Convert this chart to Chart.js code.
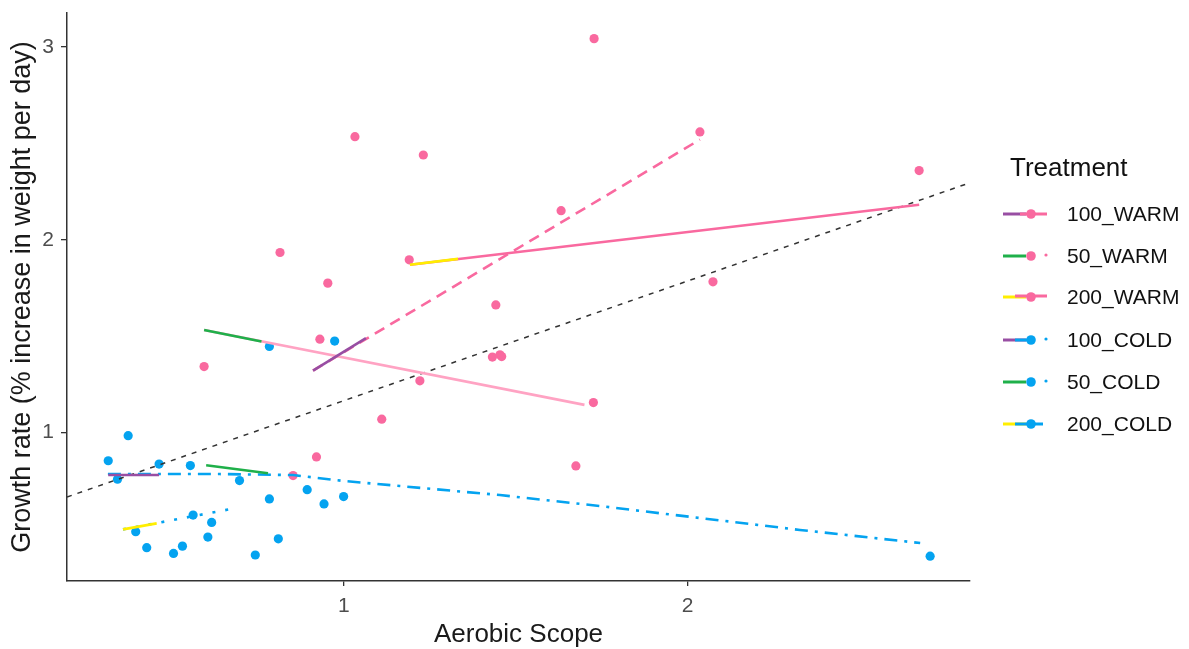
<!DOCTYPE html>
<html>
<head>
<meta charset="utf-8">
<script src="https://cdn.jsdelivr.net/npm/chart.js@4/dist/chart.umd.min.js"></script>
<style>
  html, body { margin: 0; padding: 0; background: #fff; }
  #wrap { width: 1189px; height: 649px; position: relative; }
</style>
</head>
<body>
<div id="wrap"><canvas id="growthChart"></canvas></div>
<script>
// points
var warmX = [1.728, 1.032, 1.231, 2.036, 1.632, 0.814, 1.190, 0.953, 2.074, 2.674, 1.442,
  0.930, 1.432, 1.454, 1.459, 0.593, 1.221, 1.726, 1.110, 0.920, 0.852, 1.675];
var warmY = [3.044, 2.535, 2.440, 2.56, 2.151, 1.934, 1.896, 1.775, 1.782, 2.359, 1.662,
  1.484, 1.391, 1.403, 1.394, 1.342, 1.268, 1.155, 1.069, 0.873, 0.776, 0.826];
var coldX = [0.973, 0.783, 0.372, 0.314, 0.341, 0.462, 0.553, 0.696, 0.893, 0.783, 0.999,
  0.942, 0.561, 0.615, 0.394, 0.604, 0.426, 0.530, 0.504, 0.742, 0.809, 2.706];
var coldY = [1.474, 1.446, 0.983, 0.853, 0.757, 0.836, 0.828, 0.750, 0.703, 0.655, 0.667,
  0.629, 0.571, 0.533, 0.485, 0.457, 0.402, 0.410, 0.372, 0.364, 0.448, 0.358];

// fitted lines (end points / curve points)
var overallX = [0.194, 2.822];
var overallY = [0.665, 2.296];
var warm200X = [1.192, 2.674];
var warm200Y = [1.870, 2.182];
var warm50X = [0.910, 2.036];
var warm50Y = [1.321, 2.52];
var warm100X = [0.593, 1.70];
var warm100Y = [1.532, 1.143];
var coldCurveX = [0.313, 0.464, 0.639, 0.852, 1.0, 1.163, 1.454, 1.745, 2.036, 2.327, 2.677];
var coldCurveY = [0.784, 0.784, 0.784, 0.779, 0.748, 0.722, 0.675, 0.618, 0.556, 0.494, 0.426];
var cold200X = [0.357, 0.688];
var cold200Y = [0.497, 0.608];

// short treatment segments
var segPurpleWarmX = [0.910, 1.064], segPurpleWarmY = [1.321, 1.490];
var segGreenWarmX = [0.593, 0.760], segGreenWarmY = [1.532, 1.472];
var segYellowWarmX = [1.192, 1.332], segYellowWarmY = [1.870, 1.901];
var segPurpleColdX = [0.314, 0.462], segPurpleColdY = [0.779, 0.779];
var segGreenColdX = [0.599, 0.779], segGreenColdY = [0.830, 0.788];
var segYellowColdX = [0.357, 0.455], segYellowColdY = [0.497, 0.528];

var xTicks = [1, 2];
var yTicks = [1, 2, 3];
var treatments = ['100_WARM', '50_WARM', '200_WARM', '100_COLD', '50_COLD', '200_COLD'];

var PINK = '#F9699F', BLUE = '#04A3F0', LIGHTPINK = '#FFA3C3';
var PURPLE = '#984EA3', GREEN = '#1FB04A', YELLOW = '#FFEE00';

function pts(xs, ys) {
  return xs.map(function (x, i) { return { x: x, y: ys[i] }; });
}

function lineSet(xs, ys, color, dash, order, width) {
  return {
    data: pts(xs, ys),
    showLine: true,
    borderColor: color,
    borderWidth: width || 2.6,
    borderDash: dash || [],
    pointRadius: 0,
    fill: false,
    tension: 0,
    order: order
  };
}

Chart.defaults.font.family = '"Liberation Sans", Arial, sans-serif';

var legendPlugin = {
  id: 'treatmentLegend',
  afterDraw: function (chart) {
    var ctx = chart.ctx;
    ctx.save();
    ctx.fillStyle = '#111';
    ctx.textBaseline = 'middle';
    ctx.font = '26px "Liberation Sans", Arial, sans-serif';
    ctx.fillText('Treatment', 1010, 169);
    ctx.font = '21px "Liberation Sans", Arial, sans-serif';

    var keyY = [214, 256, 297, 340, 382, 424];
    var treatCol = [PURPLE, GREEN, YELLOW, PURPLE, GREEN, YELLOW];
    function seg(x1, x2, y, c, w) {
      ctx.beginPath();
      ctx.strokeStyle = c;
      ctx.lineWidth = w || 3;
      ctx.moveTo(x1, y);
      ctx.lineTo(x2, y);
      ctx.stroke();
    }
    function dot(x, y, r, c) {
      ctx.beginPath();
      ctx.fillStyle = c;
      ctx.arc(x, y, r, 0, Math.PI * 2);
      ctx.fill();
    }
    treatments.forEach(function (name, i) {
      var y = keyY[i];
      var temp = i < 3 ? PINK : BLUE;
      seg(1003, 1026, y, treatCol[i]);
      if (i === 0) seg(1020, 1047, y, temp);
      if (i === 2) seg(1015, 1047, y - 1, temp);
      if (i === 3) seg(1015, 1027, y, temp);
      if (i === 5) seg(1015, 1043, y, temp);
      dot(1031, y, 4.8, temp);
      if (i === 1 || i === 3 || i === 4) dot(1046, y - 1, 1.6, temp);
      ctx.fillStyle = '#111';
      ctx.fillText(name, 1067, y + 1);
    });
    ctx.restore();
  }
};

var ctx = document.getElementById('growthChart').getContext('2d');
var growthChart = new Chart(ctx, {
  type: 'scatter',
  data: {
    datasets: [
      { data: pts(warmX, warmY), backgroundColor: PINK, borderColor: PINK, pointRadius: 4.6, borderWidth: 0, order: 20 },
      { data: pts(coldX, coldY), backgroundColor: BLUE, borderColor: BLUE, pointRadius: 4.6, borderWidth: 0, order: 19 },
      lineSet(overallX, overallY, '#333333', [5, 6], 10, 1.5),
      lineSet(warm100X, warm100Y, LIGHTPINK, [], 9),
      lineSet(warm200X, warm200Y, PINK, [], 8),
      lineSet(warm50X, warm50Y, PINK, [11, 7], 7),
      lineSet(coldCurveX, coldCurveY, BLUE, [13, 7, 3, 7], 6),
      lineSet(cold200X, cold200Y, BLUE, [3, 10], 5),
      lineSet(segPurpleWarmX, segPurpleWarmY, PURPLE, [], 4),
      lineSet(segGreenWarmX, segGreenWarmY, GREEN, [], 4),
      lineSet(segYellowWarmX, segYellowWarmY, YELLOW, [], 4),
      lineSet(segPurpleColdX, segPurpleColdY, PURPLE, [], 4),
      lineSet(segGreenColdX, segGreenColdY, GREEN, [], 4),
      lineSet(segYellowColdX, segYellowColdY, YELLOW, [], 4)
    ]
  },
  options: {
    responsive: true,
    maintainAspectRatio: false,
    animation: false,
    layout: { padding: { left: 0, right: 219, top: 13, bottom: 0 } },
    plugins: {
      legend: { display: false },
      tooltip: { enabled: false }
    },
    scales: {
      x: {
        type: 'linear',
        min: 0.194,
        max: 2.822,
        afterBuildTicks: function (s) { s.ticks = xTicks.map(function (v) { return { value: v }; }); },
        afterFit: function (s) { s.height = 68; s.paddingLeft = 0; s.paddingRight = 0; },
        ticks: { color: '#4d4d4d', font: { size: 21 }, padding: 8 },
        grid: { drawOnChartArea: false, tickLength: 5, color: '#333', lineWidth: 1.3 },
        border: { color: '#333', width: 1.5 },
        title: {
          display: true,
          text: 'Aerobic Scope',
          color: '#1a1a1a',
          font: { size: 26, lineHeight: 1 },
          padding: { top: 0, bottom: 1 }
        }
      },
      y: {
        type: 'linear',
        min: 0.229,
        max: 3.177,
        afterBuildTicks: function (s) { s.ticks = yTicks.map(function (v) { return { value: v }; }); },
        afterFit: function (s) { s.width = 67; s.paddingTop = 0; s.paddingBottom = 0; },
        ticks: { color: '#4d4d4d', font: { size: 21 }, padding: 7 },
        grid: { drawOnChartArea: false, tickLength: 6, color: '#333', lineWidth: 1.3 },
        border: { color: '#333', width: 1.5 },
        title: {
          display: true,
          text: 'Growth rate (% increase in weight per day)',
          color: '#1a1a1a',
          font: { size: 27, lineHeight: 1 },
          padding: { top: 9, bottom: 0 }
        }
      }
    }
  },
  plugins: [legendPlugin]
});
</script>
</body>
</html>
